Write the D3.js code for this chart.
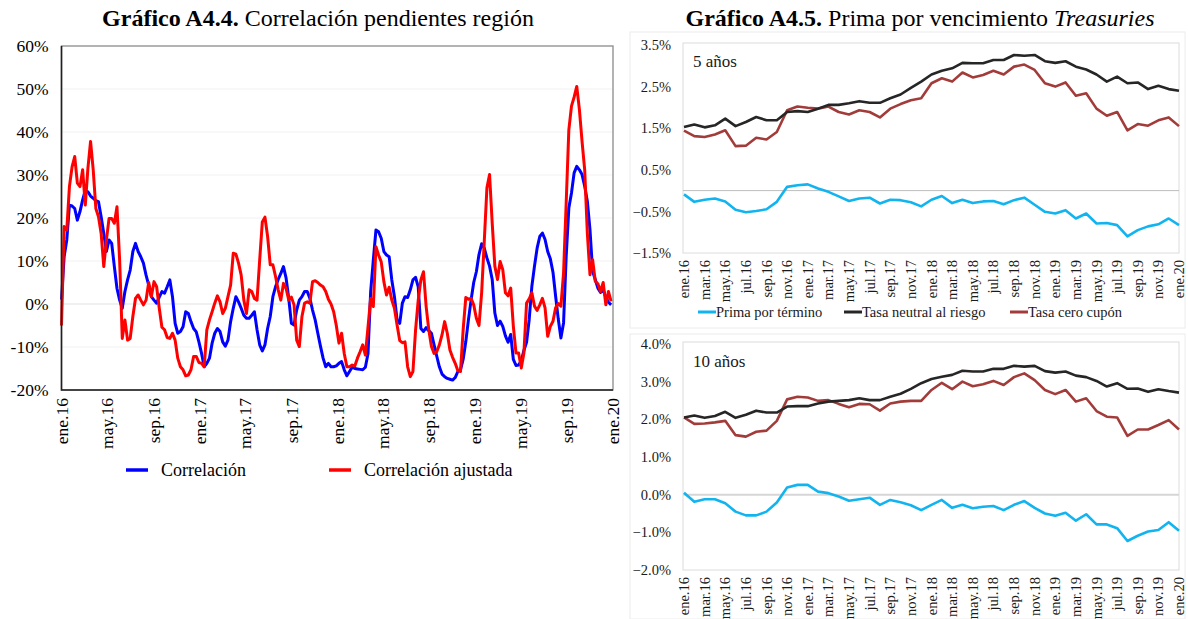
<!DOCTYPE html>
<html lang="es">
<head>
<meta charset="utf-8">
<script src="https://cdn.jsdelivr.net/npm/d3@7"></script>
<style>
  html, body { margin: 0; padding: 0; background: #fff; }
  svg { display: block; font-family: "Liberation Serif", "Times New Roman", serif; }
</style>
</head>
<body>
<svg id="chart" width="1188" height="619"></svg>
<script>
// ---------- Gráfico A4.4: weekly correlation series (percent) ----------
const corrStart = new Date(2016, 0, 1);
const corrTicks = ["ene.16","may.16","sep.16","ene.17","may.17","sep.17","ene.18","may.18","sep.18","ene.19","may.19","sep.19","ene.20"];
const corrYTicks = [-20, -10, 0, 10, 20, 30, 40, 50, 60];

const correlacion = [
  1.0, 11.0, 14.9, 23.0, 22.8, 22.2, 19.5, 21.5, 24.2, 26.4,
  26.1, 25.1, 24.6, 24.0, 23.8, 20.3, 16.4, 12.2, 14.9, 14.1,
  8.7, 3.6, 0.9, -1.0, 2.9, 5.6, 7.9, 12.2, 14.1, 12.2,
  11.0, 9.5, 6.7, 4.4, 1.7, 0.9, 0.2, 1.6, 2.9, 2.5,
  4.0, 5.6, 1.7, -4.5, -6.8, -6.4, -5.3, -1.8, -2.2, -4.1,
  -5.7, -6.5, -8.8, -11.5, -14.6, -13.8, -12.6, -9.1, -6.8, -5.7,
  -6.4, -8.8, -9.8, -8.4, -4.1, -1.0, 1.7, 0.5, -1.0, -2.6,
  -3.3, -3.3, -2.6, -1.8, -6.0, -9.5, -10.9, -9.5, -5.7, -2.9,
  1.7, 4.0, 5.7, 7.1, 8.7, 6.0, 1.3, -4.5, -4.9, -1.4,
  0.9, 1.7, 2.9, 2.9, 1.3, -1.4, -3.7, -6.8, -9.8, -12.6,
  -14.6, -13.8, -14.6, -14.6, -14.4, -13.8, -13.4, -15.3, -16.7, -15.7,
  -14.7, -15.0, -15.1, -15.2, -15.3, -14.7, -11.5, 2.9, 10.2, 17.2,
  16.8, 15.3, 12.2, 11.4, 11.0, 5.6, 1.7, -3.7, -4.5, 0.2,
  1.7, 1.5, 3.3, 5.6, 6.2, 4.0, -5.7, -6.4, -5.5, -6.2,
  -6.8, -9.5, -12.1, -14.6, -16.3, -16.9, -17.3, -17.5, -17.7, -17.1,
  -15.7, -15.3, -12.9, -8.8, -3.7, 0.9, 5.0, 7.5, 11.5, 14.0,
  13.0, 10.7, 8.8, 5.7, -2.1, -5.0, -4.0, -5.2, -7.4, -8.9,
  -7.1, -12.9, -14.3, -14.2, -13.2, -10.8, -8.9, -3.6, 4.1, 8.8,
  13.0, 15.7, 16.5, 15.0, 12.2, 10.5, 7.4, 1.8, -3.5, -7.9,
  -4.4, 11.1, 22.3, 25.8, 30.5, 32.0, 31.2, 30.1, 27.4, 23.9,
  17.3, 7.6, 5.7, 3.7, 2.7, 3.3, 1.6, 0.4, -0.2
];

const correlacionAjustada = [
  -5.0, 18.0, 17.2, 27.3, 31.9, 34.3, 28.1, 27.3, 31.2, 23.0,
  31.6, 37.8, 31.2, 22.2, 20.3, 16.4, 8.7, 14.9, 19.9, 19.9,
  18.8, 22.6, 10.2, -8.0, -3.7, -8.4, -8.0, -2.9, 1.3, 2.1,
  0.9, -0.2, 0.9, 5.0, 1.7, 5.2, 4.0, -1.0, -5.4, -6.0,
  -7.8, -8.0, -6.8, -8.4, -12.6, -14.6, -15.3, -16.7, -16.5, -15.3,
  -12.2, -12.2, -13.6, -13.8, -14.6, -6.0, -3.7, -1.8, 0.2, 1.9,
  0.5, -2.2, -1.0, 1.7, 4.4, 11.8, 11.6, 9.5, 6.7, 0.9,
  -2.2, 3.3, 2.9, 1.3, 0.9, 10.2, 19.1, 20.2, 15.7, 9.1,
  9.1, 6.4, 3.3, 0.9, 4.8, 3.6, 0.9, 1.6, -0.2, -8.4,
  -9.9, -2.9, 0.2, 0.5, 0.2, 5.2, 5.4, 5.0, 4.4, 4.0,
  2.9, 1.1, 0.0, -1.8, -5.0, -9.1, -6.8, -11.5, -14.6, -14.6,
  -14.2, -14.4, -12.6, -11.1, -9.5, -11.9, -5.3, 1.3, -0.6, 13.3,
  11.4, 9.8, 5.2, 2.1, 3.9, 0.9, -1.0, -4.9, -8.5, -9.0,
  -8.8, -14.6, -16.9, -15.7, -6.0, 0.9, 5.6, 7.5, -0.6, -6.0,
  -9.9, -11.5, -11.1, -9.5, -7.2, -4.1, -6.8, -10.7, -12.4, -13.8,
  -15.5, -15.7, -6.0, 1.5, 1.1, 1.3, -0.2, -3.3, -5.0, 2.6,
  14.6, 27.0, 30.1, 18.8, 8.8, 5.7, 9.9, 8.0, 2.6, 1.9,
  3.7, -5.2, -11.4, -11.4, -14.9, -11.4, 0.2, 1.2, 2.6, -0.5,
  -1.5, -0.2, 1.3, -0.9, -7.5, -5.2, -4.0, -0.9, 0.1, -0.5,
  7.2, 23.5, 40.5, 46.0, 48.1, 50.6, 45.2, 37.8, 31.2, 16.5,
  6.8, 10.3, 5.3, 4.7, 2.9, 5.0, -0.2, 2.9, 0.6
];

// ---------- Gráfico A4.5: monthly Treasury series (percent) ----------
const monthNames = ["ene","feb","mar","abr","may","jun","jul","ago","sep","oct","nov","dic"];
const months = [];
for (let y = 16; y <= 19; y++) for (const m of monthNames) months.push(m + "." + y);
months.push("ene.20");

const prima5 = [
  -0.09, -0.27, -0.22, -0.19, -0.26, -0.46, -0.52, -0.49, -0.45, -0.27,
  0.09, 0.13, 0.15, 0.05, -0.03, -0.14, -0.25, -0.19, -0.17, -0.31,
  -0.22, -0.23, -0.28, -0.38, -0.22, -0.13, -0.30, -0.22, -0.30, -0.26,
  -0.25, -0.33, -0.23, -0.17, -0.34, -0.51, -0.55, -0.47, -0.67, -0.55,
  -0.79, -0.78, -0.83, -1.10, -0.95, -0.86, -0.81, -0.67, -0.83
];
const neutral5 = [
  1.53, 1.59, 1.52, 1.57, 1.73, 1.55, 1.65, 1.77, 1.69, 1.69,
  1.89, 1.91, 1.89, 1.97, 2.06, 2.06, 2.10, 2.15, 2.11, 2.11,
  2.22, 2.31, 2.47, 2.62, 2.79, 2.88, 2.94, 3.07, 3.06, 3.06,
  3.14, 3.14, 3.26, 3.24, 3.26, 3.11, 3.07, 3.11, 2.98, 2.91,
  2.79, 2.62, 2.74, 2.58, 2.60, 2.44, 2.52, 2.44, 2.40
];
const cero5 = [
  1.44, 1.31, 1.29, 1.35, 1.45, 1.07, 1.08, 1.27, 1.23, 1.41,
  1.93, 2.02, 1.99, 1.97, 2.02, 1.89, 1.83, 1.93, 1.89, 1.76,
  1.97, 2.08, 2.17, 2.22, 2.58, 2.70, 2.62, 2.84, 2.72, 2.78,
  2.88, 2.79, 2.98, 3.03, 2.90, 2.58, 2.50, 2.60, 2.28, 2.34,
  1.97, 1.80, 1.89, 1.45, 1.60, 1.56, 1.69, 1.76, 1.55
];
const prima10 = [
  0.05, -0.19, -0.12, -0.12, -0.23, -0.45, -0.55, -0.55, -0.45, -0.21,
  0.19, 0.26, 0.26, 0.08, 0.04, -0.05, -0.16, -0.12, -0.08, -0.27,
  -0.14, -0.20, -0.28, -0.41, -0.27, -0.14, -0.35, -0.27, -0.36, -0.32,
  -0.30, -0.41, -0.27, -0.17, -0.35, -0.50, -0.56, -0.48, -0.69, -0.52,
  -0.79, -0.79, -0.89, -1.23, -1.09, -0.98, -0.94, -0.73, -0.96
];
const neutral10 = [
  2.05, 2.10, 2.04, 2.09, 2.20, 2.04, 2.12, 2.23, 2.18, 2.18,
  2.34, 2.35, 2.35, 2.42, 2.47, 2.49, 2.51, 2.56, 2.51, 2.51,
  2.60, 2.68, 2.81, 2.96, 3.07, 3.13, 3.18, 3.29, 3.27, 3.27,
  3.34, 3.34, 3.42, 3.40, 3.42, 3.28, 3.24, 3.27, 3.16, 3.12,
  3.02, 2.87, 2.96, 2.81, 2.82, 2.73, 2.80, 2.75, 2.71
];
const cero10 = [
  2.05, 1.88, 1.89, 1.92, 1.96, 1.58, 1.54, 1.67, 1.70, 1.96,
  2.53, 2.60, 2.58, 2.49, 2.51, 2.41, 2.32, 2.41, 2.40, 2.23,
  2.42, 2.47, 2.49, 2.49, 2.78, 2.97, 2.80, 3.00, 2.88, 2.93,
  3.02, 2.91, 3.12, 3.22, 3.04, 2.78, 2.67, 2.78, 2.47, 2.56,
  2.22, 2.07, 2.05, 1.56, 1.73, 1.73, 1.85, 1.98, 1.73
];
const ticks5 = [-1.5, -0.5, 0.5, 1.5, 2.5, 3.5];
const ticks10 = [-2, -1, 0, 1, 2, 3, 4];

const svg = d3.select("#chart");
const FONT = '"Liberation Serif", "Times New Roman", serif';

// ---------- Titles ----------
function title(x, y, parts) {
  const t = svg.append("text").attr("x", x).attr("y", y)
    .attr("text-anchor", "middle").attr("font-size", 24).attr("fill", "#000");
  parts.forEach(p => {
    const s = t.append("tspan").text(p.text);
    if (p.bold) s.attr("font-weight", "bold");
    if (p.italic) s.attr("font-style", "italic");
  });
}
title(318, 26, [{ text: "Gráfico A4.4.", bold: true }, { text: " Correlación pendientes región" }]);
title(920, 26, [{ text: "Gráfico A4.5.", bold: true }, { text: " Prima por vencimiento " }, { text: "Treasuries", italic: true }]);

// ---------- Left chart ----------
(function () {
  const L = 61.5, R = 613, T = 46, B = 390;
  const dates = correlacion.map((_, i) => d3.timeDay.offset(corrStart, 7 * i));
  const x = d3.scaleTime().domain([new Date(2016, 0, 1), new Date(2020, 0, 1)]).range([L, R]);
  const y = d3.scaleLinear().domain([-20, 60]).range([B, T]);
  const g = svg.append("g");

  // grid
  g.selectAll("line.grid").data(corrYTicks.filter(v => v > -20 && v < 60)).join("line")
    .attr("x1", L).attr("x2", R).attr("y1", d => y(d)).attr("y2", d => y(d))
    .attr("stroke", d => d === 0 ? "#e2e2e2" : "#f1f1f1").attr("stroke-width", 1.2);

  // y axis labels
  const ya = g.append("g").attr("transform", `translate(${L},0)`)
    .call(d3.axisLeft(y).tickValues(corrYTicks).tickSize(0).tickPadding(13).tickFormat(d => d + "%"));
  ya.select(".domain").remove();
  ya.selectAll("text").attr("font-family", FONT).attr("font-size", 17.5).attr("fill", "#000");

  // x axis labels (rotated)
  const tickDates = corrTicks.map((_, i) => d3.timeMonth.offset(new Date(2016, 0, 1), 4 * i));
  g.selectAll("text.xl").data(tickDates).join("text")
    .attr("transform", (d) => `translate(${x(d)},${B + 8}) rotate(-90)`)
    .attr("text-anchor", "end").attr("dy", "0.35em")
    .attr("font-size", 17.5).attr("fill", "#000")
    .text((d, i) => corrTicks[i]);

  // series
  const line = d3.line().x((d, i) => x(dates[i])).y(d => y(d));
  g.append("path").datum(correlacion).attr("d", line)
    .attr("fill", "none").attr("stroke", "#0000ff").attr("stroke-width", 3).attr("stroke-linejoin", "round");
  g.append("path").datum(correlacionAjustada).attr("d", line)
    .attr("fill", "none").attr("stroke", "#ff0000").attr("stroke-width", 3).attr("stroke-linejoin", "round");

  // frame
  g.append("rect").attr("x", L).attr("y", T).attr("width", R - L).attr("height", B - T)
    .attr("fill", "none").attr("stroke", "#8a8a8a").attr("stroke-width", 1.3);
  g.append("path").attr("d", `M${L},${T}V${B}H${R}`).attr("fill", "none")
    .attr("stroke", "#202020").attr("stroke-width", 1.6);

  // legend
  const leg = [{ name: "Correlación", c: "#0000ff", x: 126 }, { name: "Correlación ajustada", c: "#ff0000", x: 329 }];
  leg.forEach(l => {
    g.append("line").attr("x1", l.x).attr("x2", l.x + 22).attr("y1", 470).attr("y2", 470)
      .attr("stroke", l.c).attr("stroke-width", 3.5);
    g.append("text").attr("x", l.x + 35).attr("y", 470).attr("dy", "0.35em")
      .attr("font-size", 18).attr("fill", "#000").text(l.name);
  });
})();

// ---------- Right charts ----------
function treasuryPanel(opts) {
  const { L, R, T, B, domain, ticks, series, label, labelY, zeroW, box } = opts;
  const x = d3.scalePoint().domain(months).range([L + 1, R]);
  const y = d3.scaleLinear().domain(domain).range([B, T]);
  const g = svg.append("g");

  g.append("rect").attr("x", box[0]).attr("y", box[1]).attr("width", box[2] - box[0]).attr("height", box[3] - box[1])
    .attr("fill", "none").attr("stroke", "#ececec").attr("stroke-width", 1);

  g.append("rect").attr("x", L).attr("y", T - 2).attr("width", R - L).attr("height", B - T + 2)
    .attr("fill", "none").attr("stroke", "#dcdcdc").attr("stroke-width", 1);

  g.append("line").attr("x1", L).attr("x2", R).attr("y1", y(0)).attr("y2", y(0))
    .attr("stroke", zeroW > 1.5 ? "#d6d6d6" : "#bdbdbd").attr("stroke-width", zeroW);

  const ya = g.append("g").attr("transform", `translate(${L},0)`)
    .call(d3.axisLeft(y).tickValues(ticks).tickSize(0).tickPadding(12).tickFormat(d => d3.format(".1f")(d) + "%"));
  ya.select(".domain").remove();
  ya.selectAll("text").attr("font-family", FONT).attr("font-size", 14.5).attr("fill", "#1a1a1a");

  g.selectAll("text.xl").data(months.filter((_, i) => i % 2 === 0)).join("text")
    .attr("transform", d => `translate(${x(d)},${B + 7}) rotate(-90)`)
    .attr("text-anchor", "end").attr("dy", "0.35em")
    .attr("font-size", 14.5).attr("fill", "#1a1a1a").text(d => d);

  const line = d3.line().x((d, i) => x(months[i])).y(d => y(d));
  series.forEach(s => {
    g.append("path").datum(s.values).attr("d", line)
      .attr("fill", "none").attr("stroke", s.color).attr("stroke-width", 2.6).attr("stroke-linejoin", "round");
  });

  g.append("text").attr("x", L + 10).attr("y", labelY).attr("font-size", 17).attr("fill", "#1a1a1a").text(label);
  return g;
}

const colPrima = "#12b4f0", colNeutral = "#262626", colCero = "#a23c3a";

treasuryPanel({
  L: 683, R: 1179, T: 45, B: 253, domain: [-1.5, 3.5], ticks: ticks5, zeroW: 1,
  label: "5 años", labelY: 67, box: [630, 32, 1185, 328],
  series: [
    { values: prima5, color: colPrima },
    { values: cero5, color: colCero },
    { values: neutral5, color: colNeutral }
  ]
});
treasuryPanel({
  L: 683, R: 1179, T: 344, B: 570, domain: [-2, 4], ticks: ticks10, zeroW: 2,
  label: "10 años", labelY: 367, box: [630, 334, 1185, 619],
  series: [
    { values: prima10, color: colPrima },
    { values: cero10, color: colCero },
    { values: neutral10, color: colNeutral }
  ]
});

// shared legend for the Treasury panels
[
  { name: "Prima por término", c: colPrima, x: 698 },
  { name: "Tasa neutral al riesgo", c: colNeutral, x: 844 },
  { name: "Tasa cero cupón", c: colCero, x: 1010 }
].forEach(l => {
  svg.append("line").attr("x1", l.x).attr("x2", l.x + 18).attr("y1", 312).attr("y2", 312)
    .attr("stroke", l.c).attr("stroke-width", 3);
  svg.append("text").attr("x", l.x + 18).attr("y", 312).attr("dy", "0.35em")
    .attr("font-size", 14.5).attr("fill", "#1a1a1a").text(l.name);
});
</script>
</body>
</html>
